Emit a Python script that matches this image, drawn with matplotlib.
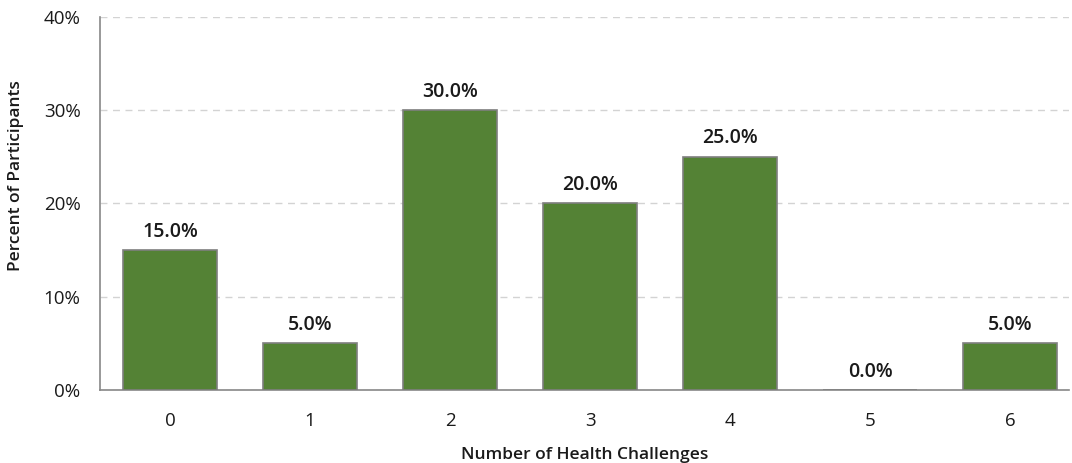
import matplotlib
matplotlib.use("Agg")
import matplotlib.pyplot as plt
from matplotlib.ticker import PercentFormatter

challenges = ["0", "1", "2", "3", "4", "5", "6"]
percents = [15.0, 5.0, 30.0, 20.0, 25.0, 0.0, 5.0]
y_ticks = [0, 10, 20, 30, 40]

plt.rcParams['font.family'] = ['Open Sans', 'DejaVu Sans']

fig = plt.figure(figsize=(10.72, 4.63), dpi=100)
ax = fig.add_axes([0.0933, 0.1577, 0.9037, 0.8056])

x = list(range(len(challenges)))
bars = ax.bar(x, percents, width=0.67, color="#548235",
              edgecolor="#7f7f7f", linewidth=1.2, zorder=3)

for xi, val in zip(x, percents):
    ax.text(xi, val + 0.9, f"{val:.1f}%", ha="center", va="bottom",
            fontsize=14, fontweight="semibold", color="#1a1a1a")

ax.set_xlim(-0.5, 6.42)
ax.set_ylim(0, 40)
ax.set_yticks(y_ticks)
ax.yaxis.set_major_formatter(PercentFormatter(decimals=0))
ax.set_xticks(x)
ax.set_xticklabels(challenges)

ax.grid(axis="y", linestyle=(0, (5, 4)), color="#d3d3d3", linewidth=1, zorder=0)
for side in ["top", "right"]:
    ax.spines[side].set_visible(False)
for side in ["left", "bottom"]:
    ax.spines[side].set_color("#888888")
    ax.spines[side].set_linewidth(1.2)

ax.tick_params(axis="both", length=0, labelsize=13.5, colors="#1a1a1a")
ax.tick_params(axis="x", pad=16)
ax.tick_params(axis="y", pad=14)

ax.set_xlabel("Number of Health Challenges", fontsize=12.5, fontweight="semibold",
              labelpad=12, color="#1a1a1a")
ax.set_ylabel("Percent of Participants", fontsize=12.5, fontweight="semibold",
              color="#1a1a1a")
ax.yaxis.set_label_coords(-0.078, 0.574)

fig.savefig("out.png", dpi=100)
